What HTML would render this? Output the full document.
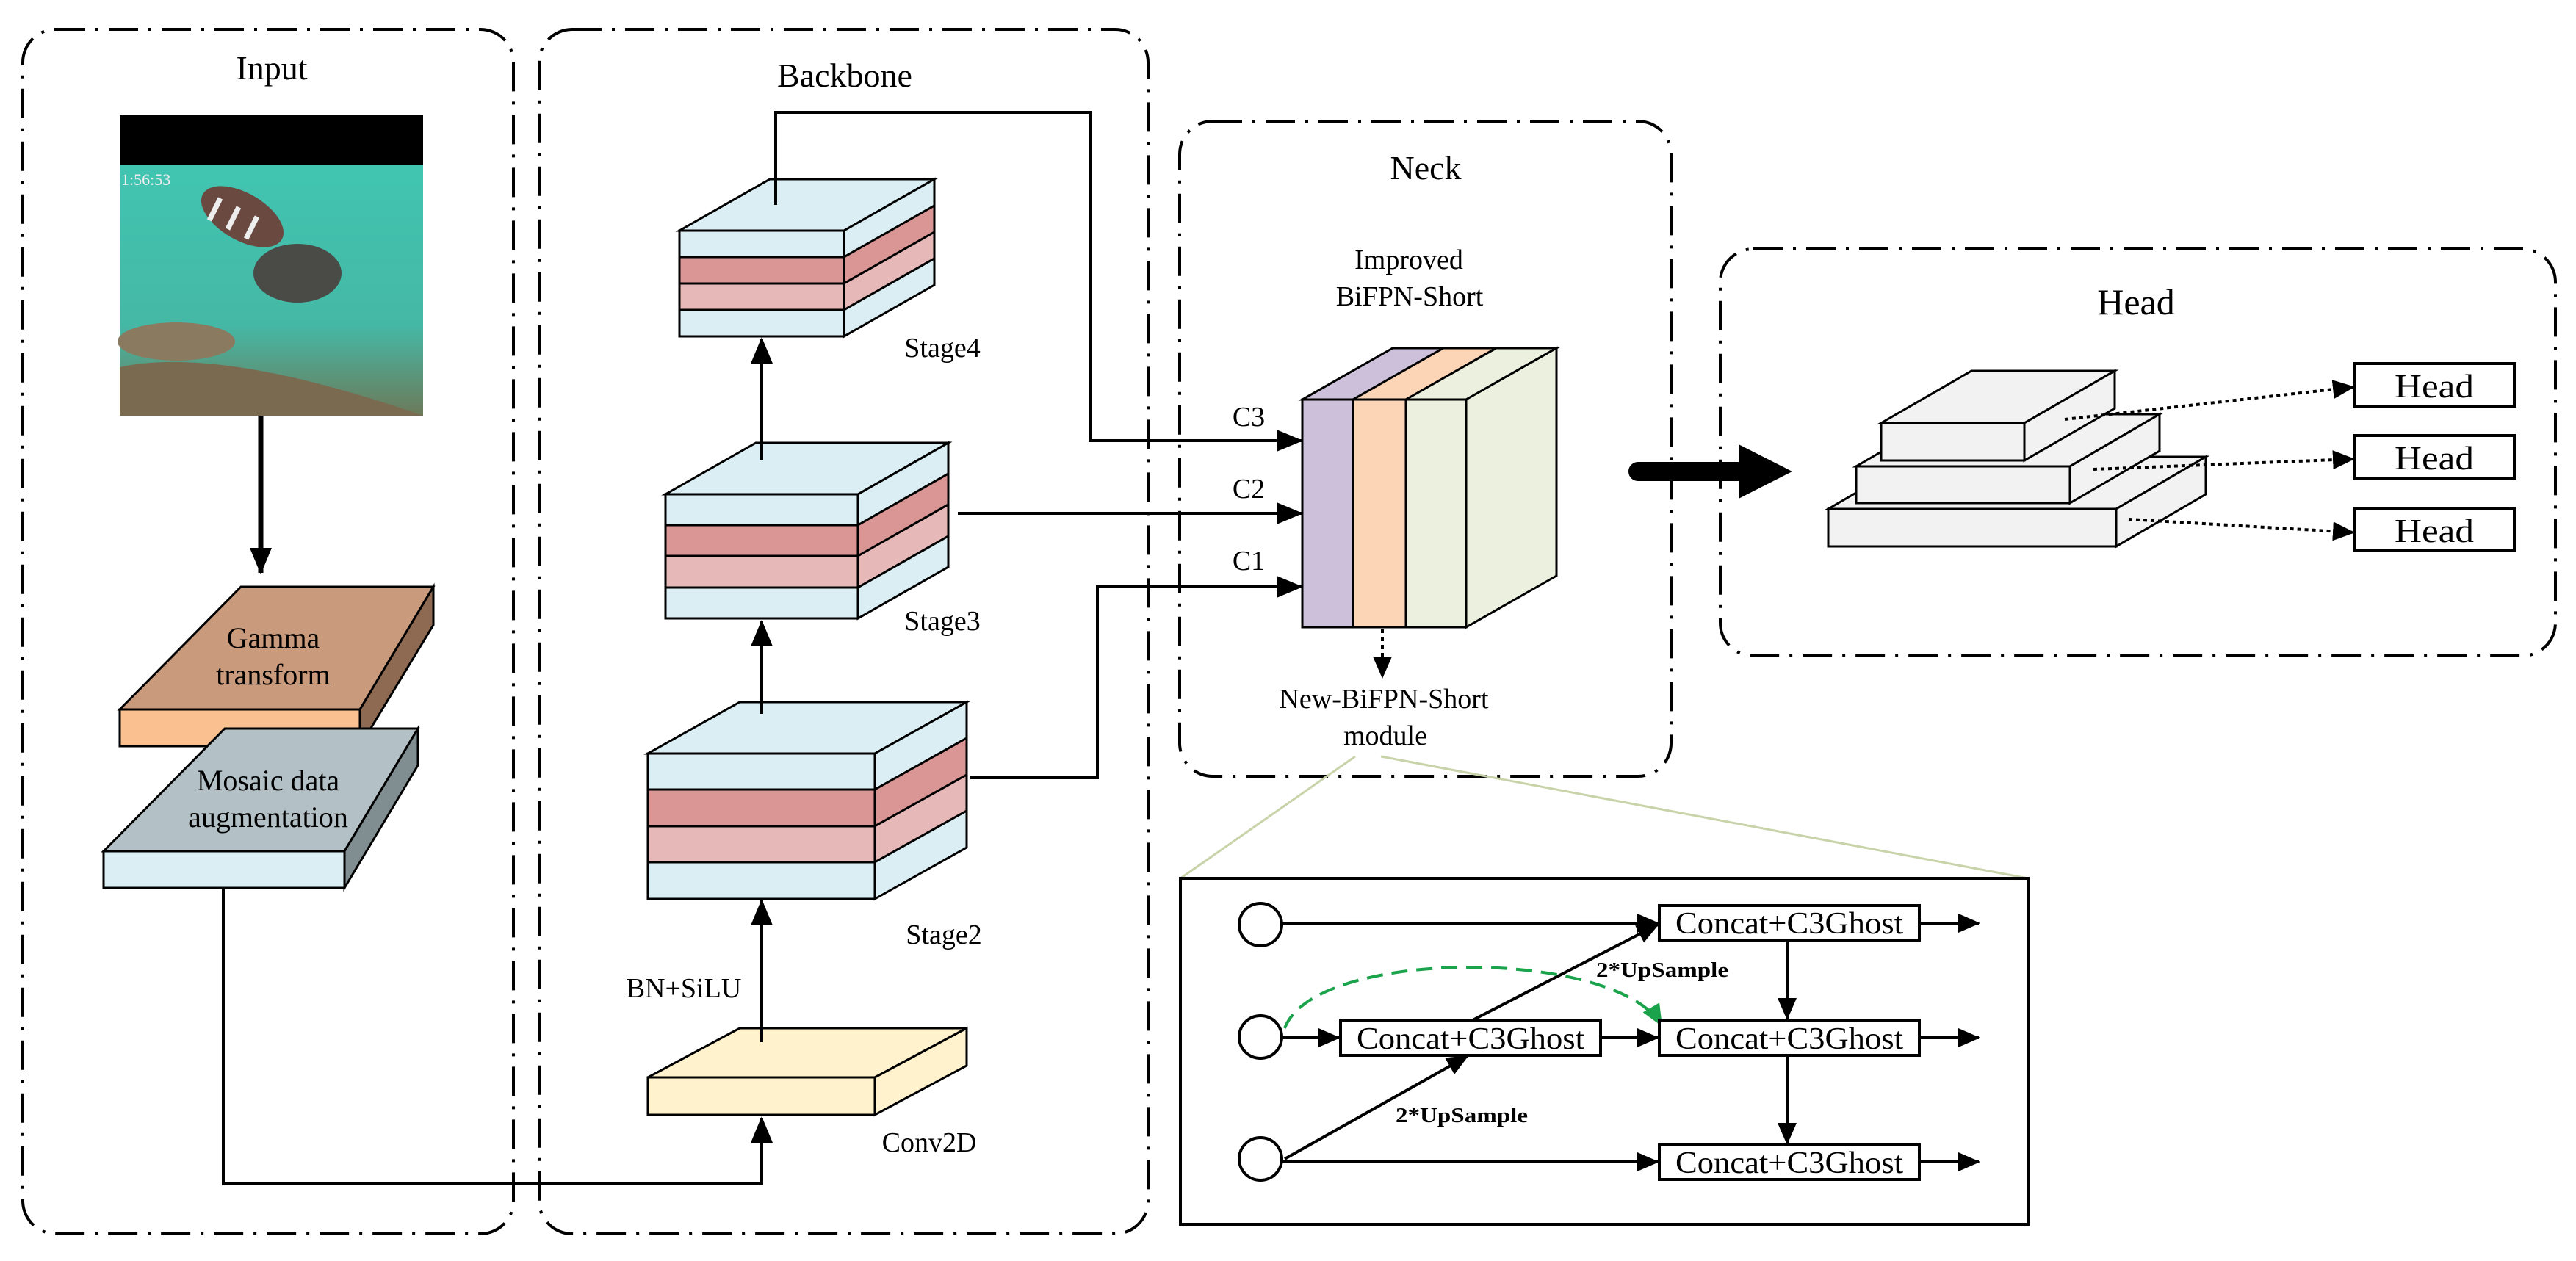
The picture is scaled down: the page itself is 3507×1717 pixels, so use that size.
<!DOCTYPE html>
<html><head><meta charset="utf-8"><style>
html,body{margin:0;padding:0;background:#fff}
svg{display:block}
text{font-family:"Liberation Serif",serif;fill:#000}
</style></head><body>
<svg width="3507" height="1717" viewBox="0 0 3507 1717" xmlns="http://www.w3.org/2000/svg" font-family="Liberation Serif, serif">
<defs>
<marker id="ah" markerUnits="userSpaceOnUse" markerWidth="36" markerHeight="30" refX="34" refY="15" orient="auto"><path d="M0,0 L36,15 L0,30 Z" fill="#000"/></marker>
<marker id="ahs" markerUnits="userSpaceOnUse" markerWidth="30" markerHeight="26" refX="28" refY="13" orient="auto"><path d="M0,0 L30,13 L0,26 Z" fill="#000"/></marker>
<marker id="ahg" markerUnits="userSpaceOnUse" markerWidth="30" markerHeight="26" refX="28" refY="13" orient="auto"><path d="M0,0 L30,13 L0,26 Z" fill="#1aa34a"/></marker>
<linearGradient id="sea" x1="0" y1="0" x2="0" y2="1"><stop offset="0" stop-color="#3fc9b5"/><stop offset="0.7" stop-color="#45b8a5"/><stop offset="1" stop-color="#6c7a5a"/></linearGradient>
</defs>

<g fill="none" stroke="#000" stroke-width="4" stroke-dasharray="40 14 4 14">
<rect x="31" y="40" width="668" height="1640" rx="45"/>
<rect x="734" y="40" width="829" height="1640" rx="45"/>
<rect x="1606" y="165" width="669" height="892" rx="45"/>
<rect x="2342" y="339" width="1137" height="554" rx="45"/>
</g>

<text x="370" y="108" font-size="46" text-anchor="middle">Input</text>
<text x="1150" y="118" font-size="46" text-anchor="middle">Backbone</text>
<text x="1941" y="244" font-size="46" text-anchor="middle">Neck</text>
<text x="2908" y="428" font-size="50" text-anchor="middle">Head</text>

<!-- fish image -->
<rect x="163" y="157" width="413" height="409" fill="url(#sea)"/>
<rect x="163" y="157" width="413" height="67" fill="#000"/>
<text x="165" y="252" font-size="22" style="fill:#eee">1:56:53</text>
<ellipse cx="330" cy="295" rx="62" ry="32" fill="#6a4a40" transform="rotate(30 330 295)"/>
<g stroke="#eee" stroke-width="7"><line x1="300" y1="270" x2="285" y2="300"/><line x1="325" y1="282" x2="310" y2="312"/><line x1="350" y1="295" x2="335" y2="325"/></g>
<ellipse cx="405" cy="372" rx="60" ry="40" fill="#4a4a46"/>
<ellipse cx="240" cy="465" rx="80" ry="26" fill="#8a7a60"/>
<path d="M163,500 Q300,470 576,566 L163,566 Z" fill="#7a6a50"/>

<line x1="355" y1="566" x2="355" y2="780" stroke="#000" stroke-width="7" marker-end="url(#ah)"/>

<g stroke="#000" stroke-width="3">
<polygon points="163,966 490,966 590,799 328,799" fill="#c99a7b"/>
<polygon points="490,966 590,799 590,851 490,1016" fill="#8e6a52"/>
<rect x="163" y="966" width="327" height="50" fill="#fac090"/>
</g>
<text x="372" y="882" font-size="40" text-anchor="middle">Gamma</text>
<text x="372" y="932" font-size="40" text-anchor="middle">transform</text>
<g stroke="#000" stroke-width="3">
<polygon points="141,1159 469,1159 569,992 306,992" fill="#b3c0c5"/>
<polygon points="469,1159 569,992 569,1042 469,1209" fill="#808d91"/>
<rect x="141" y="1159" width="328" height="50" fill="#dbeef3"/>
</g>
<text x="365" y="1076" font-size="40" text-anchor="middle">Mosaic data</text>
<text x="365" y="1126" font-size="40" text-anchor="middle">augmentation</text>

<polyline points="304,1209 304,1612 1037,1612 1037,1522" fill="none" stroke="#000" stroke-width="4" marker-end="url(#ah)"/>

<g stroke="#000" stroke-width="3">
<polygon points="882,1467 1191,1467 1316,1400 1007,1400" fill="#fff2cc"/>
<polygon points="1191,1467 1316,1400 1316,1451 1191,1518" fill="#fff2cc"/>
<rect x="882" y="1467" width="309" height="51" fill="#fff2cc"/>
</g>
<text x="1265" y="1568" font-size="38" text-anchor="middle">Conv2D</text>
<text x="931" y="1358" font-size="38" text-anchor="middle">BN+SiLU</text>
<line x1="1037" y1="1419" x2="1037" y2="1226" stroke="#000" stroke-width="4" marker-end="url(#ah)"/>

<g stroke="#000" stroke-width="3">
<polygon points="882,1026 1191,1026 1316,956 1007,956" fill="#daeef3"/>
<polygon points="1191,1026 1316,956 1316,1005 1191,1075" fill="#daeef3"/>
<polygon points="1191,1075 1316,1005 1316,1055 1191,1125" fill="#d99694"/>
<polygon points="1191,1125 1316,1055 1316,1104 1191,1174" fill="#e6b9b8"/>
<polygon points="1191,1174 1316,1104 1316,1154 1191,1224" fill="#daeef3"/>
<rect x="882" y="1026" width="309" height="49" fill="#daeef3"/>
<rect x="882" y="1075" width="309" height="50" fill="#d99694"/>
<rect x="882" y="1125" width="309" height="49" fill="#e6b9b8"/>
<rect x="882" y="1174" width="309" height="50" fill="#daeef3"/>
</g>
<text x="1285" y="1285" font-size="38" text-anchor="middle">Stage2</text>
<line x1="1037" y1="972" x2="1037" y2="846" stroke="#000" stroke-width="4" marker-end="url(#ah)"/>

<g stroke="#000" stroke-width="3">
<polygon points="906,673 1168,673 1291,603 1029,603" fill="#daeef3"/>
<polygon points="1168,673 1291,603 1291,645 1168,715" fill="#daeef3"/>
<polygon points="1168,715 1291,645 1291,687 1168,757" fill="#d99694"/>
<polygon points="1168,757 1291,687 1291,730 1168,800" fill="#e6b9b8"/>
<polygon points="1168,800 1291,730 1291,772 1168,842" fill="#daeef3"/>
<rect x="906" y="673" width="262" height="42" fill="#daeef3"/>
<rect x="906" y="715" width="262" height="42" fill="#d99694"/>
<rect x="906" y="757" width="262" height="43" fill="#e6b9b8"/>
<rect x="906" y="800" width="262" height="42" fill="#daeef3"/>
</g>
<text x="1283" y="858" font-size="38" text-anchor="middle">Stage3</text>
<line x1="1037" y1="626" x2="1037" y2="461" stroke="#000" stroke-width="4" marker-end="url(#ah)"/>

<g stroke="#000" stroke-width="3">
<polygon points="925,314 1149,314 1272,244 1048,244" fill="#daeef3"/>
<polygon points="1149,314 1272,244 1272,280 1149,350" fill="#daeef3"/>
<polygon points="1149,350 1272,280 1272,316 1149,386" fill="#d99694"/>
<polygon points="1149,386 1272,316 1272,352 1149,422" fill="#e6b9b8"/>
<polygon points="1149,422 1272,352 1272,388 1149,458" fill="#daeef3"/>
<rect x="925" y="314" width="224" height="36" fill="#daeef3"/>
<rect x="925" y="350" width="224" height="36" fill="#d99694"/>
<rect x="925" y="386" width="224" height="36" fill="#e6b9b8"/>
<rect x="925" y="422" width="224" height="36" fill="#daeef3"/>
</g>
<text x="1283" y="486" font-size="38" text-anchor="middle">Stage4</text>

<g fill="none" stroke="#000" stroke-width="4">
<polyline points="1056,279 1056,153 1484,153 1484,600 1772,600" marker-end="url(#ah)"/>
<polyline points="1304,699 1772,699" marker-end="url(#ah)"/>
<polyline points="1321,1059 1494,1059 1494,799 1772,799" marker-end="url(#ah)"/>
</g>
<text x="1700" y="580" font-size="38" text-anchor="middle">C3</text>
<text x="1700" y="678" font-size="38" text-anchor="middle">C2</text>
<text x="1700" y="776" font-size="38" text-anchor="middle">C1</text>

<text x="1918" y="366" font-size="38" text-anchor="middle">Improved</text>
<text x="1919" y="416" font-size="38" text-anchor="middle">BiFPN-Short</text>
<g stroke="#000" stroke-width="3">
<polygon points="1773,544 1842,544 1965,474 1896,474" fill="#ccc0da"/>
<polygon points="1842,544 1914,544 2037,474 1965,474" fill="#fbd5b5"/>
<polygon points="1914,544 1996,544 2119,474 2037,474" fill="#ebf1de"/>
<polygon points="1996,544 2119,474 2119,784 1996,854" fill="#ebf1de"/>
<rect x="1773" y="544" width="69" height="310" fill="#ccc0da"/>
<rect x="1842" y="544" width="72" height="310" fill="#fbd5b5"/>
<rect x="1914" y="544" width="82" height="310" fill="#ebf1de"/>
</g>
<line x1="1882" y1="856" x2="1882" y2="922" stroke="#000" stroke-width="4" stroke-dasharray="6 5" marker-end="url(#ahs)"/>
<text x="1884" y="964" font-size="38" text-anchor="middle">New-BiFPN-Short</text>
<text x="1886" y="1014" font-size="38" text-anchor="middle">module</text>

<line x1="1845" y1="1030" x2="1607" y2="1196" stroke="#c9d3a9" stroke-width="3"/>
<line x1="1880" y1="1030" x2="2761" y2="1196" stroke="#c9d3a9" stroke-width="3"/>

<line x1="2230" y1="642" x2="2380" y2="642" stroke="#000" stroke-width="26" stroke-linecap="round"/>
<polygon points="2367,605 2440,642 2367,679" fill="#000"/>

<g stroke="#000" stroke-width="3" fill="#f2f2f2">
<polygon points="2489,693 2881,693 3003,622 2611,622"/>
<polygon points="2881,693 3003,622 3003,673 2881,744"/>
<rect x="2489" y="693" width="392" height="51"/>
<polygon points="2527,635 2818,635 2940,564 2649,564"/>
<polygon points="2818,635 2940,564 2940,614 2818,685"/>
<rect x="2527" y="635" width="291" height="50"/>
<polygon points="2561,576 2756,576 2879,505 2684,505"/>
<polygon points="2756,576 2879,505 2879,556 2756,627"/>
<rect x="2561" y="576" width="195" height="51"/>
</g>
<g stroke="#000" stroke-width="4" stroke-dasharray="5 5" fill="none">
<line x1="2811" y1="571" x2="3204" y2="527" marker-end="url(#ahs)"/>
<line x1="2850" y1="639" x2="3204" y2="625" marker-end="url(#ahs)"/>
<line x1="2898" y1="707" x2="3204" y2="725" marker-end="url(#ahs)"/>
</g>
<g stroke="#000" stroke-width="4" fill="#fff">
<rect x="3206" y="495" width="217" height="58"/>
<rect x="3206" y="593" width="217" height="58"/>
<rect x="3206" y="692" width="217" height="58"/>
</g>
<g font-size="46" text-anchor="middle">
<text x="3314" y="541" textLength="108" lengthAdjust="spacingAndGlyphs">Head</text>
<text x="3314" y="639" textLength="108" lengthAdjust="spacingAndGlyphs">Head</text>
<text x="3314" y="738" textLength="108" lengthAdjust="spacingAndGlyphs">Head</text>
</g>

<rect x="1607" y="1196" width="1154" height="471" fill="none" stroke="#000" stroke-width="4"/>
<g stroke="#000" stroke-width="4" fill="#fff">
<circle cx="1716" cy="1259" r="29"/>
<circle cx="1716" cy="1412" r="29"/>
<circle cx="1716" cy="1578" r="29"/>
</g>
<g stroke="#000" stroke-width="4" fill="none">
<line x1="1745" y1="1257" x2="2257" y2="1257" marker-end="url(#ahs)"/>
<line x1="1745" y1="1413" x2="1823" y2="1413" marker-end="url(#ahs)"/>
<line x1="2179" y1="1413" x2="2257" y2="1413" marker-end="url(#ahs)"/>
<line x1="1745" y1="1582" x2="2257" y2="1582" marker-end="url(#ahs)"/>
<line x1="2613" y1="1257" x2="2694" y2="1257" marker-end="url(#ahs)"/>
<line x1="2613" y1="1413" x2="2694" y2="1413" marker-end="url(#ahs)"/>
<line x1="2613" y1="1582" x2="2694" y2="1582" marker-end="url(#ahs)"/>
<line x1="2433" y1="1280" x2="2433" y2="1387" marker-end="url(#ahs)"/>
<line x1="2433" y1="1437" x2="2433" y2="1557" marker-end="url(#ahs)"/>
<line x1="1749" y1="1578" x2="1998" y2="1438" marker-end="url(#ahs)"/>
<line x1="2005" y1="1389" x2="2257" y2="1259" marker-end="url(#ahs)"/>
</g>
<path d="M1749,1400 C1790,1290 2200,1290 2262,1396" fill="none" stroke="#1aa34a" stroke-width="4" stroke-dasharray="22 12" marker-end="url(#ahg)"/>
<g stroke="#000" stroke-width="4" fill="#fff">
<rect x="2259" y="1233" width="354" height="47"/>
<rect x="2259" y="1389" width="354" height="48"/>
<rect x="2259" y="1559" width="354" height="47"/>
<rect x="1825" y="1389" width="354" height="48"/>
</g>
<g font-size="42" text-anchor="middle">
<text x="2436" y="1271" textLength="310" lengthAdjust="spacingAndGlyphs">Concat+C3Ghost</text>
<text x="2436" y="1428" textLength="310" lengthAdjust="spacingAndGlyphs">Concat+C3Ghost</text>
<text x="2436" y="1597" textLength="310" lengthAdjust="spacingAndGlyphs">Concat+C3Ghost</text>
<text x="2002" y="1428" textLength="310" lengthAdjust="spacingAndGlyphs">Concat+C3Ghost</text>
</g>
<text x="2263" y="1330" font-size="28" font-weight="bold" text-anchor="middle" textLength="180" lengthAdjust="spacingAndGlyphs">2*UpSample</text>
<text x="1990" y="1528" font-size="28" font-weight="bold" text-anchor="middle" textLength="180" lengthAdjust="spacingAndGlyphs">2*UpSample</text>
</svg>
</body></html>
